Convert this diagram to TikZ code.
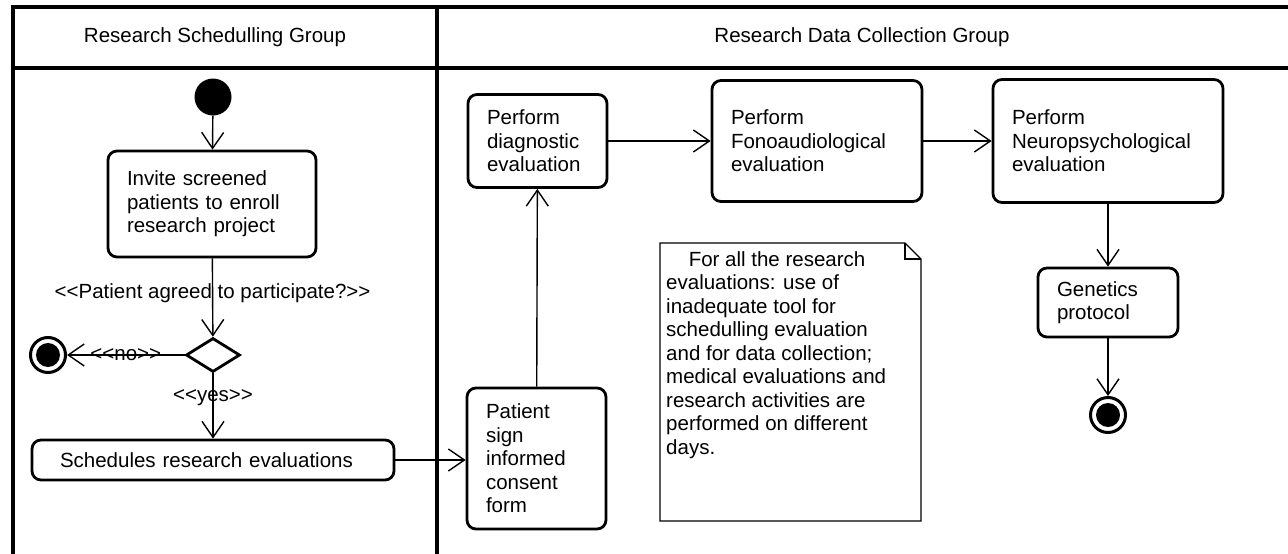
\documentclass[tikz,border=0pt]{standalone}
\usepackage{fontspec}
\setmainfont{Liberation Sans}[Ligatures=TeXOff]
\usetikzlibrary{arrows.meta,shapes.geometric}

\begin{document}
\begin{tikzpicture}[x=1pt, y=-1pt, >={Straight Barb[length=16pt,width=22pt]},
  font=\fontsize{20.5}{23.5}\selectfont,
  lane/.style={line width=3.4pt},
  act/.style={draw, rounded corners=9pt, line width=2.8pt, align=left, inner xsep=19pt, inner ysep=0pt},
  flow/.style={->, line width=1.4pt},
  lbl/.style={inner sep=0pt},
  start/.style={circle, fill, minimum size=37pt, inner sep=0pt},
  final/.style={circle, draw, line width=3pt, minimum size=35pt, inner sep=0pt,
    path picture={\fill (path picture bounding box.center) circle (12pt);}}]
  \useasboundingbox (0,0) rectangle (1288,554);
  % Swimlanes
  \draw[lane] (13,560) -- (13,7) -- (1296,7);
  \draw[lane] (13,68) -- (1296,68);
  \draw[lane] (437,7) -- (437,560);
  \node (schedlane) at (215,37) {Research Schedulling Group};
  \node (datalane) at (862,37) {Research Data Collection Group};
  % Scheduling group
  \node[start] (start) at (213,97) {};
  \node[act, text width=170pt, minimum height=106pt] (invite) at (212,204) {Invite screened\\patients to enroll\\research project};
  \node[diamond, draw, line width=2.8pt, minimum width=54pt, minimum height=34pt, inner sep=0pt] (choice) at (213,355) {};
  \node[final] (end1) at (48,355) {};
  \node[act, inner xsep=28pt, text width=306pt, minimum height=40pt] (sched) at (213,460) {Schedules research evaluations};
  % Data collection group
  \node[act, text width=101pt, minimum height=141pt] (patient) at (536.5,458.5) {Patient\\sign\\informed\\consent\\form};
  \node[act, text width=101pt, minimum height=93pt] (diag) at (537.5,141) {Perform\\diagnostic\\evaluation};
  \node[act, text width=172pt, minimum height=121pt] (fono) at (817,141) {Perform\\Fonoaudiological\\evaluation};
  \node[act, text width=192pt, minimum height=123pt] (neuro) at (1108,141) {Perform\\Neuropsychological\\evaluation};
  \node[act, text width=102pt, minimum height=69pt] (genet) at (1108,302.5) {Genetics\\protocol};
  \node[final] (end2) at (1108,415) {};
  % Flows
  \draw[flow] (start) -- (invite);
  \draw[flow] (invite) -- node[lbl, pos=0.44] {<<Patient agreed to participate?>>} (choice);
  \draw[flow] (choice) -- node[lbl] {<<no>>} (end1);
  \draw[flow] (choice) -- node[lbl, pos=0.37] {<<yes>>} (sched);
  \draw[flow] (sched.east) -- (sched.east -| patient.west);
  \draw[flow] (patient) -- (diag);
  \draw[flow] (diag) -- (fono);
  \draw[flow] (fono) -- (neuro);
  \draw[flow] (neuro) -- (genet);
  \draw[flow] (genet) -- (end2);
  % Note
  \node[anchor=north west, inner sep=0pt, align=left] (note) at (666,251) {\hspace*{1.1em}For all the research\\evaluations: use of\\inadequate tool for\\schedulling evaluation\\and for data collection;\\medical evaluations and\\research activities are\\performed on different\\days.};
  \draw[line width=1.4pt] (660,243) -- (905,243) -- (921,259) -- (921,521) -- (660,521) -- cycle;
  \draw[line width=1.2pt] (905,243) -- (905,259) -- (921,259);
\end{tikzpicture}
\end{document}
